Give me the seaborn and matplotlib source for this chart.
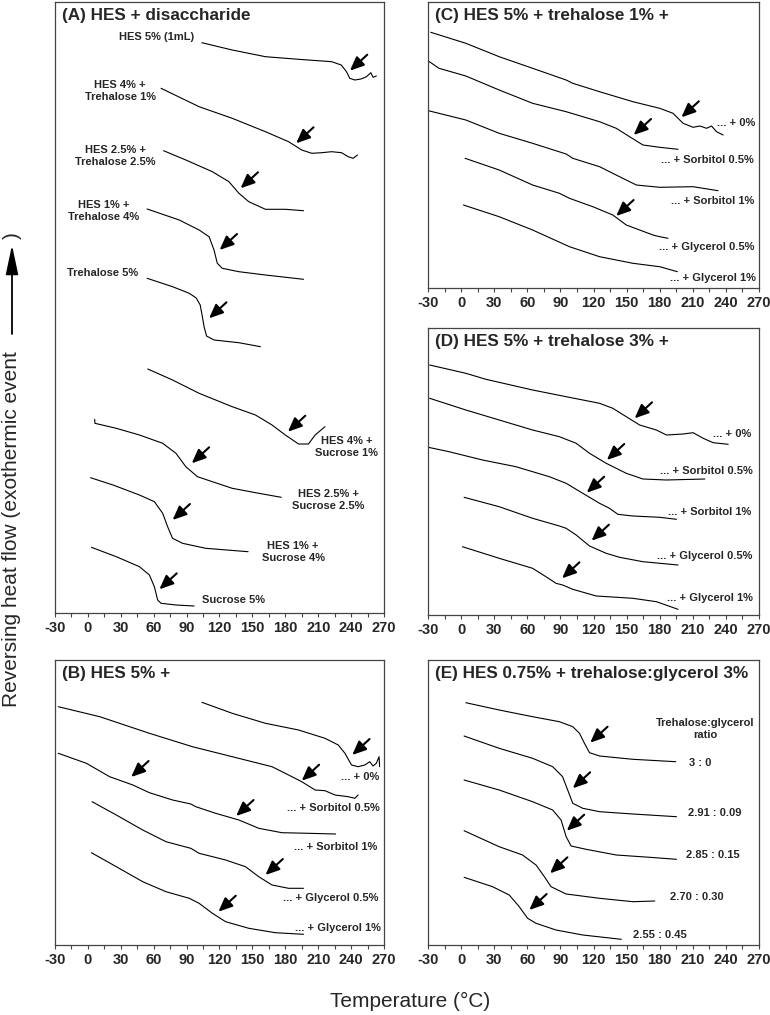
import pandas as pd
import seaborn as sns
import matplotlib.pyplot as plt
from matplotlib.ticker import MultipleLocator

# x axis shared by all panels
TEMP_TICKS = [-30, 0, 30, 60, 90, 120, 150, 180, 210, 240, 270]
TEMP_TICK_LABELS = ["-30", "0", "30", "60", "90", "120", "150", "180", "210", "240", "270"]

# ---- (A) HES + disaccharide : temperature (C) and heat flow (arb. units) ----
a_hes5_T = [103.9, 131.6, 161.9, 192.1, 222.3, 231.0, 235.8, 238.8, 243.4, 249.0, 254.0, 258.0, 260.0, 263.0]
a_hes5_q = [570.3, 563.0, 556.3, 553.7, 551.3, 548.0, 541.3, 534.7, 533.0, 534.0, 536.3, 540.3, 535.7, 537.0]
a_h4t1_T = [66.7, 101.4, 131.6, 161.9, 183.0, 195.0, 204.1, 213.2, 222.3, 231.3, 237.4, 241.9, 245.8]
a_h4t1_q = [524.7, 506.3, 494.7, 481.3, 471.3, 463.0, 459.7, 460.3, 461.3, 460.3, 456.3, 454.7, 458.0]
a_h25t25_T = [69.0, 89.3, 113.5, 128.6, 137.7, 146.7, 161.9, 180.0, 196.6]
a_h25t25_q = [462.3, 453.0, 441.3, 431.3, 419.7, 411.3, 403.7, 403.7, 402.3]
a_h1t4_T = [54.0, 83.3, 101.4, 110.5, 115.0, 118.0, 122.5, 137.7, 161.9, 196.6]
a_h1t4_q = [404.0, 393.0, 383.0, 376.3, 363.0, 349.7, 344.7, 341.3, 338.0, 333.7]
a_tre5_T = [54.0, 77.2, 92.4, 98.8, 102.4, 104.1, 106.0, 108.2, 115.0, 137.7, 157.3]
a_tre5_q = [334.7, 326.3, 319.7, 315.0, 308.0, 298.0, 286.0, 277.0, 273.0, 270.3, 266.3]
a_h4s1_T = [54.6, 77.2, 101.4, 131.6, 152.8, 167.9, 180.0, 192.1, 201.1, 207.2, 216.2]
a_h4s1_q = [244.0, 233.0, 219.7, 206.3, 198.0, 188.0, 178.0, 169.0, 169.0, 178.0, 186.3]
a_h25s25_T = [6.2, 6.4, 25.9, 47.0, 68.2, 80.3, 89.3, 99.9, 113.5, 131.6, 155.8, 176.3]
a_h25s25_q = [193.7, 189.7, 184.7, 178.0, 169.7, 159.7, 146.3, 136.3, 131.3, 124.7, 119.7, 115.7]
a_h1s4_T = [2.4, 22.9, 47.0, 60.6, 68.2, 72.7, 77.2, 86.3, 107.4, 146.1]
a_h1s4_q = [135.3, 128.0, 118.0, 111.3, 99.7, 86.3, 74.7, 69.7, 64.7, 61.3]
a_suc5_T = [3.2, 25.9, 47.0, 56.1, 60.6, 63.6, 66.7, 80.3, 96.9]
a_suc5_q = [65.7, 56.3, 46.3, 38.0, 26.3, 13.0, 9.7, 8.0, 7.0]
a_tg_T = [238.9, 189.9, 139.2, 120.1, 110.5, 182.4, 94.7, 77.2, 65.2]
a_tg_q = [542.3, 469.7, 424.7, 363.0, 294.7, 181.3, 149.7, 93.0, 23.7]
a_names = ["HES 5% (1mL)", "HES 4% +\nTrehalose 1%", "HES 2.5% +\nTrehalose 2.5%",
           "HES 1% +\nTrehalose 4%", "Trehalose 5%", "HES 4% +\nSucrose 1%",
           "HES 2.5% +\nSucrose 2.5%", "HES 1% +\nSucrose 4%", "Sucrose 5%"]
a_name_T = [96.9, 29.5, 24.8, 14.1, 13.0, 235.8, 219.2, 187.2, 133.1]
a_name_q = [576.0, 522.0, 457.0, 402.0, 339.7, 166.0, 113.0, 61.0, 13.0]
a_name_ha = ["right", "center", "center", "center", "center", "center", "center", "center", "center"]

# ---- (B) HES 5% + ----
b_0_T = [103.9, 131.6, 161.9, 192.1, 216.2, 228.3, 234.4, 240.4, 246.4, 252.5, 257.0, 260.0, 263.0, 265.5, 266.0]
b_0_q = [242.7, 231.7, 221.7, 215.0, 206.7, 200.0, 191.7, 180.0, 178.3, 180.0, 183.3, 179.0, 181.7, 188.3, 178.3]
b_sor05_T = [-27.0, 10.8, 56.1, 95.3, 131.6, 167.9, 183.0, 195.0, 207.2, 216.2, 225.3, 237.4, 243.4, 246.4]
b_sor05_q = [238.3, 228.3, 211.7, 198.3, 188.3, 178.3, 170.0, 163.3, 155.0, 154.3, 150.0, 148.3, 146.7, 150.0]
b_sor1_T = [-27.0, -1.4, 19.8, 41.0, 56.1, 77.2, 93.8, 98.4, 116.5, 137.7, 155.8, 176.9, 201.1, 225.9]
b_sor1_q = [191.7, 181.7, 168.3, 160.0, 152.3, 145.0, 141.0, 138.3, 131.7, 125.0, 116.7, 112.3, 111.7, 111.0]
b_gly05_T = [3.8, 25.9, 50.0, 71.2, 93.8, 101.4, 125.6, 143.7, 155.8, 167.9, 183.0, 196.6]
b_gly05_q = [143.3, 130.0, 115.0, 103.3, 96.7, 91.7, 85.0, 78.3, 68.3, 60.0, 56.7, 56.7]
b_gly1_T = [3.2, 25.9, 50.0, 71.2, 92.4, 101.4, 113.5, 125.6, 146.7, 170.9, 196.6]
b_gly1_q = [92.3, 78.3, 63.3, 53.3, 46.7, 41.7, 31.7, 23.3, 16.7, 12.3, 10.7]
b_tg_T = [241.0, 195.0, 39.5, 135.2, 161.9, 119.0]
b_tg_q = [190.0, 164.3, 168.0, 129.0, 70.0, 33.3]
b_names = ["... + 0%", "... + Sorbitol 0.5%", "... + Sorbitol 1%", "... + Glycerol 0.5%", "... + Glycerol 1%"]
b_name_T = [265.5, 266.0, 264.0, 264.5, 267.0]
b_name_q = [168.3, 136.7, 98.3, 47.3, 16.7]

# ---- (C) HES 5% + trehalose 1% + ----
c_0_T = [-27.5, 4.3, 34.5, 64.8, 95.2, 101.2, 125.5, 155.7, 180.0, 192.1, 201.2, 210.3, 216.4, 222.5, 227.0, 231.5, 237.5]
c_0_q = [255.7, 244.7, 231.3, 219.7, 208.0, 204.7, 196.3, 186.3, 179.7, 174.7, 164.7, 160.7, 162.0, 159.7, 162.0, 156.3, 153.0]
c_sor05_T = [-29.7, -20.0, 4.3, 34.5, 64.8, 95.2, 125.5, 140.6, 152.7, 164.8, 180.0, 196.6]
c_sor05_q = [227.0, 219.7, 212.0, 198.0, 184.7, 176.3, 166.3, 159.7, 151.3, 143.0, 140.7, 138.7]
c_sor1_T = [-29.7, 4.3, 34.5, 64.8, 95.2, 101.2, 125.5, 143.6, 158.8, 180.0, 210.3, 232.9]
c_sor1_q = [177.3, 168.0, 154.7, 144.7, 134.0, 129.7, 121.3, 111.3, 103.0, 100.7, 101.3, 97.3]
c_gly05_T = [3.6, 34.5, 64.8, 89.1, 98.2, 119.4, 137.5, 149.7, 161.8, 173.9, 180.0, 187.5]
c_gly05_q = [129.7, 118.0, 103.0, 94.7, 89.7, 81.3, 73.0, 63.0, 58.0, 53.0, 51.3, 49.7]
c_gly1_T = [2.1, 34.5, 64.8, 98.2, 125.5, 155.7, 180.0, 196.0]
c_gly1_q = [83.0, 71.3, 58.0, 41.3, 31.3, 24.7, 21.3, 16.3]
c_tg_T = [199.7, 156.4, 140.6]
c_tg_q = [170.7, 153.0, 72.0]
c_name_T = [266.4, 264.8, 265.7, 265.7, 267.3]
c_name_q = [164.7, 128.0, 87.0, 41.3, 9.7]

# ---- (D) HES 5% + trehalose 3% + ----
d_0_T = [-28.5, 4.3, 22.5, 64.8, 95.2, 125.5, 137.5, 149.7, 161.8, 177.0, 186.1, 201.2, 210.3, 219.4, 228.5, 242.1]
d_0_q = [250.0, 241.7, 235.7, 225.0, 218.3, 211.7, 206.7, 198.3, 190.0, 185.0, 180.0, 181.0, 182.3, 176.7, 172.3, 170.7]
d_sor05_T = [-28.5, 4.3, 34.5, 64.8, 89.1, 104.3, 116.4, 131.5, 149.7, 164.8, 186.1, 220.9]
d_sor05_q = [216.7, 205.0, 195.0, 185.0, 178.3, 171.7, 161.7, 151.7, 141.7, 136.0, 135.0, 136.0]
d_sor1_T = [-29.7, -10.9, 19.4, 49.7, 80.0, 95.2, 110.3, 125.5, 134.5, 142.1, 155.7, 180.0, 195.2]
d_sor1_q = [167.7, 163.3, 155.0, 148.3, 138.3, 131.7, 121.7, 111.7, 106.7, 100.7, 99.0, 97.7, 95.7]
d_gly05_T = [2.7, 34.5, 64.8, 89.1, 95.2, 104.3, 116.4, 131.5, 143.6, 164.8, 196.6]
d_gly05_q = [117.7, 108.3, 96.7, 89.0, 86.7, 80.0, 69.0, 61.7, 57.7, 53.3, 50.0]
d_gly1_T = [1.2, 34.5, 64.8, 76.9, 86.0, 92.0, 101.2, 122.5, 155.7, 177.0, 196.6]
d_gly1_q = [68.3, 56.7, 46.7, 38.3, 31.7, 30.0, 25.7, 19.0, 16.7, 13.3, 5.7]
d_tg_T = [157.3, 132.1, 113.9, 118.2, 91.5]
d_tg_q = [196.7, 155.0, 122.3, 74.3, 36.7]
d_name_T = [263.4, 264.3, 263.4, 264.3, 264.8]
d_name_q = [180.7, 144.0, 102.7, 59.3, 17.3]

# ---- (E) HES 0.75% + trehalose:glycerol 3% ----
e_300_T = [4.3, 34.5, 64.8, 89.1, 101.2, 107.3, 111.8, 116.4, 125.5, 155.7, 194.5]
e_300_q = [242.3, 235.0, 228.3, 223.3, 218.3, 211.7, 201.7, 192.3, 189.0, 185.7, 183.3]
e_291_T = [2.7, 34.5, 64.8, 83.0, 92.0, 96.6, 101.2, 110.3, 125.5, 155.7, 195.2]
e_291_q = [209.0, 196.7, 186.7, 178.3, 168.3, 155.0, 141.7, 136.7, 133.3, 131.0, 128.3]
e_285_T = [2.7, 34.5, 64.8, 83.0, 90.6, 95.2, 99.7, 113.3, 140.6, 170.9, 195.2]
e_285_q = [165.0, 155.0, 143.3, 135.0, 125.0, 108.3, 99.0, 95.7, 90.0, 87.7, 85.7]
e_270_T = [2.7, 34.5, 55.7, 67.9, 75.5, 81.5, 95.2, 125.5, 155.7, 175.5]
e_270_q = [114.3, 98.3, 90.0, 80.0, 68.3, 58.3, 51.0, 46.7, 43.3, 44.0]
e_255_T = [2.7, 28.5, 43.6, 52.7, 60.3, 67.9, 86.0, 110.3, 145.2]
e_255_q = [67.7, 58.3, 50.0, 38.3, 26.7, 21.7, 15.0, 10.0, 5.7]
e_tg_T = [117.0, 101.2, 95.8, 80.6, 61.8]
e_tg_q = [202.3, 156.7, 114.3, 71.7, 35.0]
e_names = ["Trehalose:glycerol\nratio", "3 : 0", "2.91 : 0.09", "2.85 : 0.15", "2.70 : 0.30", "2.55 : 0.45"]
e_name_T = [221.0, 216.4, 230.0, 228.5, 213.4, 180.0]
e_name_q = [216.0, 181.7, 131.7, 90.0, 48.3, 10.0]

W, H = 770, 1015


def frame(curves):
    rows = []
    for name, ts, qs in curves:
        for t, q in zip(ts, qs):
            rows.append({"curve": name, "T": t, "flow": q})
    return pd.DataFrame(rows)


def panel(fig, box, ytop, title, curves, tg_T, tg_q, names, name_T, name_q, name_ha):
    left, top, right, bottom = box
    ax = fig.add_axes([left / W, 1 - bottom / H, (right - left) / W, (bottom - top) / H])
    sns.lineplot(data=frame(curves), x="T", y="flow", units="curve", estimator=None,
                 sort=False, color="black", linewidth=0.8, ax=ax)
    for t, q in zip(tg_T, tg_q):
        ax.annotate("", xy=(t, q), xytext=(12.5, 11.5), textcoords="offset points",
                    arrowprops=dict(arrowstyle="-|>,head_length=0.6,head_width=0.26",
                                    mutation_scale=14, color="black", lw=1.5,
                                    shrinkA=0, shrinkB=0))
    for s, t, q, ha in zip(names, name_T, name_q, name_ha):
        ax.text(t, q, s, ha=ha, va="center", multialignment="center", fontsize=8,
                fontweight="bold", linespacing=1.35)
    ax.annotate(title, xy=(0, 1), xycoords="axes fraction", xytext=(5, -4.5),
                textcoords="offset points", ha="left", va="top", fontsize=12.3, fontweight="bold")
    ax.set_xlim(-30, 270)
    ax.set_ylim(0, ytop)
    ax.set_xticks(TEMP_TICKS, TEMP_TICK_LABELS, fontsize=10.5, fontweight="bold")
    ax.xaxis.set_minor_locator(MultipleLocator(15))
    ax.tick_params(axis="x", which="both", bottom=True, direction="out", length=3,
                   width=0.8, color="#444444", pad=3)
    ax.set_yticks([])
    ax.set_xlabel("")
    ax.set_ylabel("")
    for sp in ax.spines.values():
        sp.set_color("#444444")
        sp.set_linewidth(0.9)
    return ax


sns.set_style("white")
plt.rcParams["font.family"] = ["Liberation Sans", "DejaVu Sans"]

fig = plt.figure(figsize=(W / 100, H / 100), dpi=100)

right_labels = ["... + 0%", "... + Sorbitol 0.5%", "... + Sorbitol 1%", "... + Glycerol 0.5%", "... + Glycerol 1%"]

ax_a = panel(fig, (55, 2, 384, 613), 611, "(A) HES + disaccharide",
             list(zip(a_names, [a_hes5_T, a_h4t1_T, a_h25t25_T, a_h1t4_T, a_tre5_T, a_h4s1_T, a_h25s25_T, a_h1s4_T, a_suc5_T],
                      [a_hes5_q, a_h4t1_q, a_h25t25_q, a_h1t4_q, a_tre5_q, a_h4s1_q, a_h25s25_q, a_h1s4_q, a_suc5_q])),
             a_tg_T, a_tg_q, a_names, a_name_T, a_name_q, a_name_ha)
panel(fig, (55, 660, 384, 945), 285, "(B) HES 5% +",
      list(zip(b_names, [b_0_T, b_sor05_T, b_sor1_T, b_gly05_T, b_gly1_T],
               [b_0_q, b_sor05_q, b_sor1_q, b_gly05_q, b_gly1_q])),
      b_tg_T, b_tg_q, b_names, b_name_T, b_name_q, ["right"] * 5)
panel(fig, (428, 2, 759, 288), 286, "(C) HES 5% + trehalose 1% +",
      list(zip(right_labels, [c_0_T, c_sor05_T, c_sor1_T, c_gly05_T, c_gly1_T],
               [c_0_q, c_sor05_q, c_sor1_q, c_gly05_q, c_gly1_q])),
      c_tg_T, c_tg_q, right_labels, c_name_T, c_name_q, ["right"] * 5)
panel(fig, (428, 328, 759, 615), 287, "(D) HES 5% + trehalose 3% +",
      list(zip(right_labels, [d_0_T, d_sor05_T, d_sor1_T, d_gly05_T, d_gly1_T],
               [d_0_q, d_sor05_q, d_sor1_q, d_gly05_q, d_gly1_q])),
      d_tg_T, d_tg_q, right_labels, d_name_T, d_name_q, ["right"] * 5)
panel(fig, (428, 660, 759, 945), 285, "(E) HES 0.75% + trehalose:glycerol 3%",
      list(zip(e_names[1:], [e_300_T, e_291_T, e_285_T, e_270_T, e_255_T],
               [e_300_q, e_291_q, e_285_q, e_270_q, e_255_q])),
      e_tg_T, e_tg_q, e_names, e_name_T, e_name_q, ["center"] * 6)

# shared axis titles
fig.text(12 / W, 1 - 707 / H, "Reversing heat flow (exothermic event", rotation=90,
         ha="center", va="bottom", fontsize=15)
ax_a.annotate("", xy=(12 / W, 1 - 245 / H), xytext=(12 / W, 1 - 334 / H),
              xycoords="figure fraction", textcoords="figure fraction", annotation_clip=False,
              arrowprops=dict(arrowstyle="-|>,head_length=1.8,head_width=0.38", mutation_scale=10,
                              color="black", lw=1.3, shrinkA=0, shrinkB=0))
fig.text(12 / W, 1 - 236 / H, ")", rotation=90, ha="center", va="center", fontsize=15)
fig.text(410 / W, 1 - 1001 / H, "Temperature (°C)", ha="center", va="center", fontsize=15)

fig.savefig("out.png", dpi=100)
